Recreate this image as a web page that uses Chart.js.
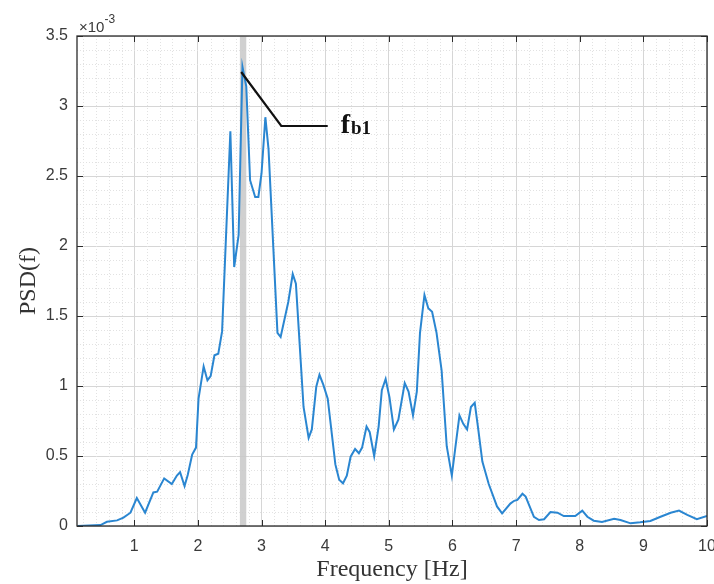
<!DOCTYPE html>
<html>
<head>
<meta charset="utf-8">
<script src="https://cdn.jsdelivr.net/npm/chart.js@4/dist/chart.umd.min.js"></script>
<style>
  html, body { margin: 0; padding: 0; background: #fff; }
  #wrap { width: 714px; height: 584px; }
</style>
</head>
<body>
<div id="wrap"><canvas id="myChart"></canvas></div>
<script>
// frequency [Hz] and PSD values (x 10^-3)
const freq = [
    0.11, 0.47, 0.57, 0.73, 0.83, 0.94, 1.04, 1.17, 1.30, 1.36,
    1.47, 1.59, 1.67, 1.72, 1.79, 1.84, 1.91, 1.97, 2.01, 2.09,
    2.15, 2.20, 2.26, 2.32, 2.38, 2.51, 2.57, 2.64, 2.70, 2.76,
    2.82, 2.90, 2.95, 3.00, 3.06, 3.11, 3.25, 3.30, 3.42, 3.49,
    3.54, 3.66, 3.74, 3.79, 3.86, 3.91, 3.97, 4.04, 4.16, 4.22,
    4.28, 4.34, 4.40, 4.47, 4.53, 4.58, 4.65, 4.70, 4.77, 4.84,
    4.89, 4.95, 5.01, 5.08, 5.15, 5.25, 5.31, 5.38, 5.44, 5.49,
    5.56, 5.62, 5.68, 5.75, 5.83, 5.91, 5.99, 6.04, 6.11, 6.17,
    6.23, 6.29, 6.35, 6.40, 6.47, 6.57, 6.70, 6.78, 6.91, 6.97,
    7.02, 7.10, 7.15, 7.28, 7.36, 7.44, 7.54, 7.65, 7.75, 7.93,
    8.04, 8.12, 8.22, 8.35, 8.54, 8.64, 8.80, 8.95, 9.11, 9.27,
    9.43, 9.56, 9.69, 9.84, 10.0
];
const psd = [
    0, 0.007, 0.03, 0.04, 0.06, 0.095, 0.20, 0.095, 0.24, 0.245,
    0.34, 0.30, 0.36, 0.385, 0.285, 0.365, 0.51, 0.56, 0.91, 1.14,
    1.04, 1.07, 1.22, 1.23, 1.39, 2.82, 1.85, 2.08, 3.28, 3.14,
    2.47, 2.35, 2.35, 2.52, 2.92, 2.69, 1.38, 1.35, 1.60, 1.80,
    1.73, 0.85, 0.63, 0.69, 0.995, 1.08, 1.01, 0.91, 0.44, 0.33,
    0.305, 0.36, 0.495, 0.55, 0.52, 0.56, 0.71, 0.67, 0.50, 0.71,
    0.97, 1.05, 0.92, 0.69, 0.76, 1.02, 0.96, 0.79, 0.96, 1.38,
    1.65, 1.555, 1.53, 1.38, 1.11, 0.57, 0.36, 0.54, 0.79, 0.73,
    0.69, 0.85, 0.88, 0.71, 0.46, 0.30, 0.14, 0.09, 0.16, 0.18,
    0.186, 0.23, 0.21, 0.066, 0.043, 0.048, 0.10, 0.095, 0.071, 0.071,
    0.11, 0.066, 0.038, 0.029, 0.052, 0.043, 0.019, 0.026, 0.036, 0.066,
    0.095, 0.11, 0.079, 0.048, 0.071
];

const xTicks = [1, 2, 3, 4, 5, 6, 7, 8, 9, 10];
const yTicks = [0, 0.5, 1, 1.5, 2, 2.5, 3, 3.5];

// shaded band around f_b1 and the callout line
const band = [2.66, 2.76];
const callout = [[2.68, 3.243], [3.31, 2.857], [4.04, 2.857]];
const calloutLabel = ['f', 'b1'];

const tickColor = '#3a3a3a';

const matlabAxes = {
    id: 'matlabAxes',
    beforeDatasetsDraw(chart) {
        const { ctx, chartArea: a, scales: { x, y } } = chart;
        ctx.save();
        // minor grid (dotted)
        ctx.strokeStyle = '#e2e2e2';
        ctx.lineWidth = 1;
        ctx.setLineDash([1, 2]);
        for (let v = 0.2; v < 10; v += 0.2) {
            if (Math.abs(v - Math.round(v)) < 1e-6) continue;
            const px = Math.round(x.getPixelForValue(v)) + 0.5;
            ctx.beginPath(); ctx.moveTo(px, a.top); ctx.lineTo(px, a.bottom); ctx.stroke();
        }
        for (let v = 0.1; v < 3.5; v += 0.1) {
            if (Math.abs(v * 2 - Math.round(v * 2)) < 1e-6) continue;
            const py = Math.round(y.getPixelForValue(v)) + 0.5;
            ctx.beginPath(); ctx.moveTo(a.left, py); ctx.lineTo(a.right, py); ctx.stroke();
        }
        ctx.setLineDash([]);
        // gray band
        ctx.fillStyle = 'rgba(200,200,200,0.85)';
        const b0 = x.getPixelForValue(band[0]);
        const b1 = x.getPixelForValue(band[1]);
        ctx.fillRect(b0, a.top, b1 - b0, a.bottom - a.top);
        ctx.restore();
    },
    afterDraw(chart) {
        const { ctx, chartArea: a, scales: { x, y } } = chart;
        ctx.save();
        // box
        ctx.strokeStyle = '#2b2b2b';
        ctx.lineWidth = 1.3;
        ctx.strokeRect(a.left, a.top, a.right - a.left, a.bottom - a.top);
        // inward ticks
        ctx.lineWidth = 1;
        ctx.beginPath();
        xTicks.forEach(v => {
            const px = Math.round(x.getPixelForValue(v)) + 0.5;
            ctx.moveTo(px, a.bottom); ctx.lineTo(px, a.bottom - 6);
            ctx.moveTo(px, a.top); ctx.lineTo(px, a.top + 6);
        });
        yTicks.forEach(v => {
            const py = Math.round(y.getPixelForValue(v)) + 0.5;
            ctx.moveTo(a.left, py); ctx.lineTo(a.left + 6, py);
            ctx.moveTo(a.right, py); ctx.lineTo(a.right - 6, py);
        });
        ctx.stroke();
        // exponent label
        ctx.fillStyle = tickColor;
        ctx.textBaseline = 'alphabetic';
        ctx.textAlign = 'left';
        ctx.font = '15px "Liberation Sans", Arial, sans-serif';
        ctx.fillText('\u00d710', a.left + 2, a.top - 4);
        const w = ctx.measureText('\u00d710').width;
        ctx.font = '12px "Liberation Sans", Arial, sans-serif';
        ctx.fillText('-3', a.left + 2 + w, a.top - 13);
        // callout
        ctx.strokeStyle = '#111';
        ctx.lineWidth = 2.2;
        ctx.beginPath();
        callout.forEach((p, i) => {
            const px = x.getPixelForValue(p[0]);
            const py = y.getPixelForValue(p[1]);
            if (i === 0) ctx.moveTo(px, py); else ctx.lineTo(px, py);
        });
        ctx.stroke();
        const last = callout[callout.length - 1];
        const tx = x.getPixelForValue(last[0]) + 13;
        const ty = y.getPixelForValue(last[1]) + 7;
        ctx.fillStyle = '#111';
        ctx.font = 'bold 28px "Liberation Serif", "Times New Roman", serif';
        ctx.fillText(calloutLabel[0], tx, ty);
        const fw = ctx.measureText(calloutLabel[0]).width;
        ctx.font = 'bold 19px "Liberation Serif", "Times New Roman", serif';
        ctx.fillText(calloutLabel[1], tx + fw + 1, ty + 1);
        ctx.restore();
    }
};

const ctx = document.getElementById('myChart').getContext('2d');

const myChart = new Chart(ctx, {
    type: 'line',
    data: {
        datasets: [{
            label: 'PSD',
            data: freq.map((f, i) => ({ x: f, y: psd[i] })),
            borderColor: '#2a86d1',
            borderWidth: 2,
            pointRadius: 0,
            tension: 0
        }]
    },
    options: {
        responsive: true,
        maintainAspectRatio: false,
        animation: false,
        layout: { padding: { left: 0, right: 7, top: 36, bottom: 0 } },
        plugins: {
            legend: { display: false },
            tooltip: { enabled: false }
        },
        scales: {
            x: {
                type: 'linear',
                min: 0.1,
                max: 10,
                afterBuildTicks: s => { s.ticks = xTicks.map(v => ({ value: v })); },
                afterFit: s => { s.height = 58; s.paddingRight = 0; s.paddingLeft = 0; },
                border: { display: false },
                grid: { color: '#d6d6d6', drawTicks: false },
                ticks: {
                    padding: 11,
                    color: tickColor,
                    font: { family: '"Liberation Sans", Arial, sans-serif', size: 16 },
                    maxRotation: 0,
                    callback: v => String(v)
                },
                title: {
                    display: true,
                    text: 'Frequency [Hz]',
                    color: '#333',
                    font: { family: '"Liberation Serif", "Times New Roman", serif', size: 24 },
                    padding: { top: 0, bottom: 0 }
                }
            },
            y: {
                min: 0,
                max: 3.5,
                afterBuildTicks: s => { s.ticks = yTicks.map(v => ({ value: v })); },
                afterFit: s => { s.width = 77; s.paddingTop = 0; s.paddingBottom = 0; },
                border: { display: false },
                grid: { color: '#d6d6d6', drawTicks: false },
                ticks: {
                    padding: 9,
                    color: tickColor,
                    font: { family: '"Liberation Sans", Arial, sans-serif', size: 16 },
                    callback: v => String(v)
                },
                title: {
                    display: true,
                    text: 'PSD(f)',
                    color: '#333',
                    font: { family: '"Liberation Serif", "Times New Roman", serif', size: 24 },
                    padding: { top: 14, bottom: 0 }
                }
            }
        }
    },
    plugins: [matlabAxes]
});
</script>
</body>
</html>
